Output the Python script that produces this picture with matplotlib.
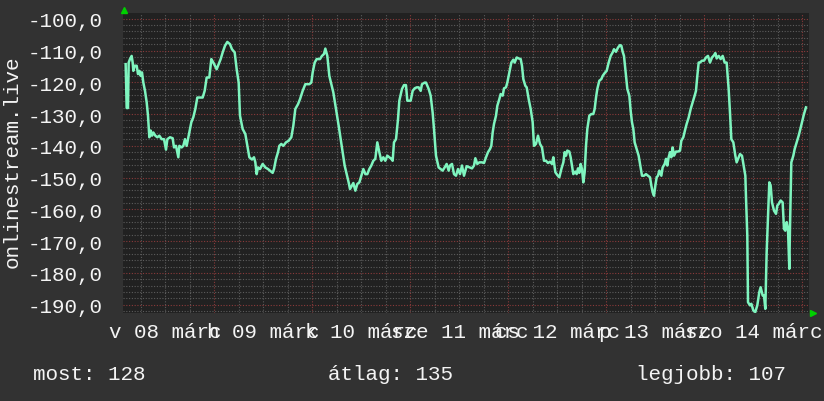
import numpy as np
import matplotlib
matplotlib.use("Agg")
import matplotlib.pyplot as plt
from matplotlib.ticker import MultipleLocator, FixedLocator, FuncFormatter

# --- data (hours since 2026-03-08 00:00, signal value) ---
hours = [
    2.29, 2.54, 2.86, 3.03, 3.35, 3.76, 4.01, 4.17, 4.50, 4.99, 5.31, 5.64, 5.97, 6.29, 6.62,
    7.03, 7.44, 7.76, 8.09, 8.42, 8.74, 9.07, 9.56, 10.05, 10.54, 11.11, 11.68, 12.17, 12.50,
    13.15, 13.80, 14.13, 14.62, 15.19, 15.44, 16.01, 16.41, 16.82, 17.23, 17.64, 18.05, 18.37,
    18.86, 19.35, 19.84, 20.50, 21.15, 21.64, 22.13, 22.78, 23.27, 23.76, 24.58, 25.07, 25.56,
    26.05, 26.62, 27.19, 27.84, 28.33, 28.99, 29.48, 29.97, 30.29, 30.94, 31.60, 32.09, 32.58,
    33.23, 33.72, 34.05, 34.37, 34.70, 35.19, 35.84, 36.50, 37.15, 37.64, 38.29, 38.62, 39.11,
    39.60, 39.92, 40.41, 40.90, 41.56, 42.21, 42.86, 43.35, 43.84, 44.50, 44.99, 45.64, 46.29,
    47.27, 47.76, 48.09, 48.58, 49.07, 49.88, 50.37, 50.86, 51.19, 51.68, 52.17, 52.66, 53.15,
    53.80, 54.46, 55.11, 55.43, 55.92, 56.41, 56.90, 57.23, 57.72, 58.05, 58.54, 59.03, 59.52,
    60.01, 60.50, 60.99, 61.48, 61.96, 62.45, 62.94, 63.43, 63.92, 64.41, 64.90, 65.39, 65.88,
    66.37, 66.86, 67.35, 67.68, 68.00, 68.50, 68.99, 69.31, 69.96, 70.45, 70.94, 71.27, 72.09,
    72.58, 73.07, 73.56, 74.05, 74.54, 74.86, 75.52, 75.84, 76.50, 76.98, 77.47, 77.80, 78.29,
    78.94, 79.43, 79.92, 80.41, 80.90, 81.39, 81.72, 82.21, 82.70, 83.19, 83.68, 84.17, 84.66,
    85.15, 85.80, 87.11, 87.60, 87.93, 88.41, 88.90, 89.56, 90.05, 90.54, 91.03, 91.52, 91.84,
    92.17, 92.50, 92.99, 93.31, 93.80, 94.13, 94.62, 94.95, 95.43, 95.76, 96.09, 96.41, 96.74,
    97.23, 97.56, 98.05, 98.54, 99.03, 99.35, 99.68, 100.17, 100.50, 100.99, 101.48, 101.97,
    102.29, 102.78, 103.27, 103.76, 104.25, 104.74, 105.23, 105.72, 106.21, 106.70, 107.03,
    107.52, 108.01, 108.50, 108.99, 109.48, 109.80, 110.13, 110.45, 110.94, 111.27, 111.60,
    111.92, 112.41, 112.74, 113.07, 113.39, 113.72, 114.05, 114.37, 114.70, 115.03, 115.35,
    115.84, 116.33, 116.82, 117.15, 117.48, 117.80, 118.29, 118.78, 119.11, 119.60, 120.09,
    120.58, 121.07, 121.56, 121.88, 122.37, 122.86, 123.35, 123.68, 124.01, 124.33, 124.82,
    125.15, 125.64, 125.96, 126.29, 126.62, 126.94, 127.43, 127.92, 128.25, 128.74, 129.23,
    129.72, 130.21, 130.70, 131.03, 131.35, 131.68, 132.01, 132.33, 132.66, 132.99, 133.48,
    133.80, 134.29, 134.62, 134.94, 135.27, 135.60, 135.92, 136.25, 136.58, 137.07, 137.56,
    138.05, 138.37, 138.86, 139.35, 139.68, 140.17, 140.66, 141.15, 141.64, 141.96, 142.29,
    142.62, 142.94, 143.43, 143.92, 144.41, 144.90, 145.39, 145.88, 146.37, 146.70, 147.03,
    147.52, 148.01, 148.50, 148.99, 149.47, 149.96, 150.29, 150.62, 151.11, 151.60, 151.92,
    152.41, 152.74, 153.23, 153.72, 154.05, 154.21, 154.53, 154.70, 155.19, 155.52, 156.00,
    156.49, 156.98, 157.47, 157.80, 158.29, 158.62, 158.94, 159.27, 159.60, 159.92, 160.25,
    160.58, 161.07, 161.56, 161.88, 162.21, 162.70, 163.19, 163.51, 163.84, 164.17, 164.49,
    164.82, 164.98, 165.31, 165.80, 166.13, 166.62, 167.11, 167.43, 167.92, 168.41, 168.90,
]
values = [
    -114.3, -128.1, -128.1, -113.8, -112.7, -111.7, -113.8, -116.4, -114.8, -114.8, -117.4, -116.4, -118.0, -116.9, -120.1,
    -122.7, -126.3, -130.5, -137.3, -135.2, -136.8, -135.8, -136.8, -137.3, -136.8, -137.9, -137.9, -141.2, -137.9,
    -137.3, -137.6, -140.5, -140.0, -143.6, -140.0, -140.5, -140.0, -137.9, -140.0, -137.3, -134.7, -132.6,
    -131.0, -128.4, -124.8, -124.8, -124.8, -122.7, -118.5, -118.5, -112.7, -113.8, -115.9, -114.3, -112.7,
    -110.6, -108.5, -107.3, -108.0, -109.6, -110.6, -115.9, -120.1, -130.5, -134.7, -136.3, -140.0, -143.6,
    -144.3, -143.6, -145.2, -148.9, -146.8, -147.3, -145.7, -146.8, -147.3, -147.8, -148.5, -147.3, -144.1,
    -142.0, -140.0, -139.4, -140.0, -138.9, -138.4, -137.3, -133.7, -128.4, -126.9, -125.3, -122.7, -120.6,
    -120.6, -120.1, -116.9, -113.8, -112.7, -112.7, -111.7, -111.1, -109.4, -111.7, -118.0, -120.6, -123.2,
    -128.4, -133.7, -139.4, -142.0, -146.2, -148.9, -151.5, -153.6, -152.5, -151.7, -154.1, -152.0, -151.5,
    -149.4, -147.3, -148.9, -148.9, -147.3, -146.2, -144.7, -144.1, -138.9, -142.0, -144.7, -143.6, -144.7,
    -143.1, -143.6, -144.1, -144.7, -138.9, -137.9, -131.6, -125.8, -122.1, -120.9, -120.9, -125.8, -125.8,
    -122.7, -121.9, -121.6, -121.6, -122.7, -120.6, -120.1, -120.1, -122.1, -124.2, -129.5, -134.7, -143.1,
    -146.8, -147.3, -147.8, -146.8, -145.7, -147.8, -146.2, -145.7, -148.9, -149.4, -147.3, -148.9, -146.2,
    -149.4, -146.4, -147.1, -146.2, -143.9, -145.7, -145.2, -145.2, -145.4, -143.6, -142.0, -141.0, -140.0,
    -135.8, -133.1, -130.5, -127.4, -125.3, -123.7, -124.2, -121.9, -121.6, -120.1, -118.0, -115.9, -113.8,
    -112.9, -113.8, -112.2, -112.5, -112.7, -114.8, -119.0, -121.1, -121.6, -125.3, -128.4, -132.6,
    -140.0, -139.4, -136.8, -139.4, -140.5, -144.7, -144.7, -145.4, -145.0, -145.7, -143.6,
    -148.3, -149.2, -149.9, -147.3, -145.2, -142.0, -143.1, -141.5, -141.8, -143.6, -146.2,
    -148.9, -148.1, -148.9, -147.1, -148.5, -145.7, -147.3, -151.5, -148.3, -140.0, -134.7,
    -130.5, -130.0, -130.0, -128.4, -124.8, -122.1, -119.5, -119.0, -118.0, -117.1, -116.4,
    -113.8, -111.7, -110.6, -109.6, -110.4, -109.1, -108.3, -108.5, -110.4, -111.7, -118.0,
    -122.1, -124.2, -128.9, -132.6, -134.7, -138.9, -141.0, -143.1, -145.7, -149.4, -149.4,
    -148.9, -149.4, -149.9, -152.5, -154.6, -155.7, -152.5, -149.9, -149.4, -147.8, -149.4,
    -146.8, -145.7, -144.1, -146.2, -143.6, -142.0, -143.6, -140.5, -143.1, -141.8, -141.8,
    -141.5, -138.4, -137.3, -134.7, -133.1, -131.1, -128.4, -126.3, -124.2, -122.7, -118.0,
    -113.8, -113.8, -113.2, -113.2, -112.2, -111.7, -113.8, -112.2, -111.5, -110.8, -112.5,
    -111.7, -112.7, -111.7, -113.8, -113.8, -122.1, -129.5, -137.9, -138.9, -143.1, -145.2,
    -143.6, -142.6, -143.1, -146.8, -149.4, -156.2, -168.2, -189.2, -190.2, -189.7, -191.8,
    -192.3, -190.2, -186.0, -184.5, -187.1, -187.1, -191.3, -173.5, -161.9, -151.5, -152.5,
    -157.8, -160.4, -161.4, -158.8, -158.3, -157.2, -157.8, -166.1, -166.7, -164.0, -166.1,
    -178.7, -166.1, -145.2, -143.1, -141.0, -138.9, -136.8, -135.2, -132.6, -130.0, -127.9,
]

day_ticks = [12, 36, 60, 84, 108, 132, 156]
day_labels = ["v 08 márc", "h 09 márc", "k 10 márc", "sze 11 márc",
              "cs 12 márc", "p 13 márc", "szo 14 márc"]
y_ticks = [-100, -110, -120, -130, -140, -150, -160, -170, -180, -190]

legend_items = [("most", 128), ("átlag", 135), ("legjobb", 107)]
ylabel = "onlinestream.live"

# --- style ---
bg_outer = "#323232"
bg_plot = "#212121"
txt_col = "#f4f4f4"
minor_col = "#5c5c5c"
major_col = "#8a3a3a"
line_col = "#7ff5bf"
plt.rcParams["font.family"] = ["Liberation Mono", "DejaVu Sans Mono"]
fs = 15

fig = plt.figure(figsize=(8.24, 4.02), dpi=100, facecolor=bg_outer)
ax = fig.add_axes([123 / 824, 1 - 314 / 402, 686 / 824, 300 / 402])
ax.set_facecolor(bg_plot)

ax.plot(hours, values, color=line_col, lw=1.8, zorder=3)

ax.set_xlim(1.64, 169.64)
ax.set_ylim(-192.6, -98.2)

# grid: minor every 6 h / 2 units, major every day / 10 units
ax.yaxis.set_major_locator(FixedLocator(y_ticks))
ax.yaxis.set_minor_locator(MultipleLocator(2))
ax.xaxis.set_major_locator(FixedLocator([24 * k for k in range(1, 8)]))
ax.xaxis.set_minor_locator(MultipleLocator(6))
ax.grid(which="minor", color=minor_col, lw=0.8, linestyle=(0, (1, 1.5)), zorder=1)
ax.grid(which="major", color=major_col, lw=0.8, linestyle=(0, (1, 1.5)), zorder=2)
ax.set_axisbelow(True)
ax.tick_params(which="both", length=0, colors=txt_col)
ax.set_xticklabels([])
ax.yaxis.set_major_formatter(FuncFormatter(lambda v, p: f"{v:.1f}".replace(".", ",")))
ax.tick_params(axis="y", labelsize=fs, pad=15)

# day labels centered at noon
for t, lab in zip(day_ticks, day_labels):
    ax.text(t, -0.03, lab, transform=ax.get_xaxis_transform(), ha="center", va="top",
            fontsize=fs, color=txt_col)

for s in ax.spines.values():
    s.set_visible(False)

# rrdtool style arrows
ax.plot([0.002], [1.01], marker="^", color="#00d000", ms=5, transform=ax.transAxes, clip_on=False)
ax.plot([1.006], [0.0], marker=">", color="#00d000", ms=5, transform=ax.transAxes, clip_on=False)

fig.text(12 / 824, 1 - 162 / 402, ylabel, rotation=90, ha="center", va="center",
         fontsize=fs, color=txt_col)

xs = [33, 328, 636]
for x, (name, val) in zip(xs, legend_items):
    fig.text(x / 824, 1 - 375 / 402, f"{name}: {val}", ha="left", va="center",
             fontsize=fs, color=txt_col)

fig.savefig("out.png", dpi=100, facecolor=bg_outer)
